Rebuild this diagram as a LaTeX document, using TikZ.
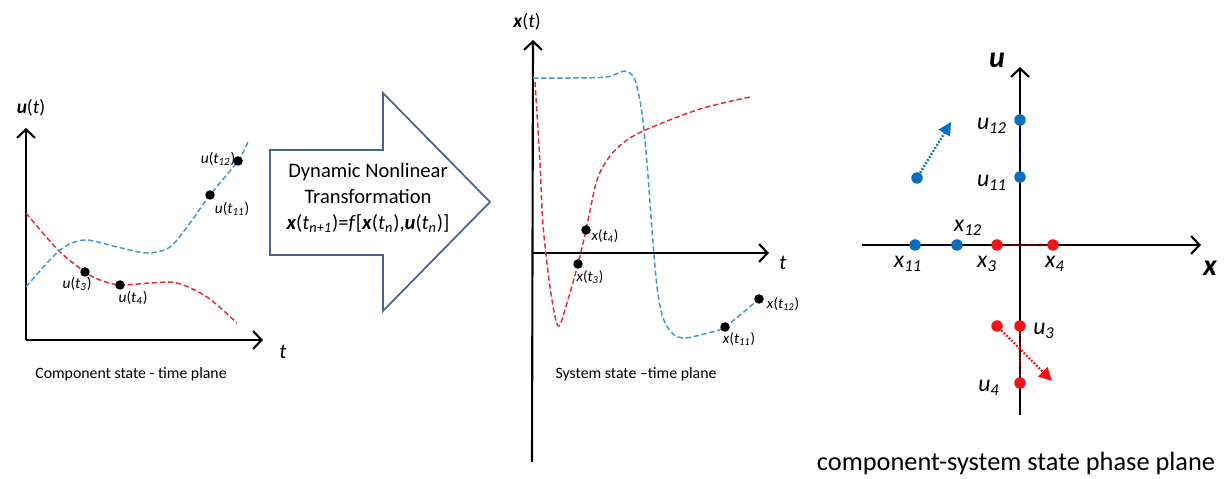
\documentclass[tikz,border=0pt]{standalone}
\usepackage{fontspec}
\setmainfont{Carlito}
\usetikzlibrary{arrows.meta}
\definecolor{curveblue}{RGB}{70,150,205}
\definecolor{curvered}{RGB}{225,45,60}
\definecolor{dotblue}{RGB}{10,110,190}
\definecolor{dotred}{RGB}{238,20,25}
\definecolor{arrowedge}{RGB}{75,100,140}
\tikzset{
  axis/.style={line width=1.2pt, -{Straight Barb[length=1.7mm,width=3.6mm]}},
  curve/.style={dash pattern=on 3pt off 1.6pt, line width=0.85pt},
  blackdot/.style={circle, fill=black, inner sep=0pt, minimum size=1.9mm},
  phasedot/.style={circle, inner sep=0pt, minimum size=2.3mm},
  link/.style={dash pattern=on 0.9pt off 0.7pt, line width=1.5pt},
  drift/.style={dash pattern=on 1pt off 1pt, line width=1.4pt, -{Triangle[length=2.6mm,width=2.6mm]}},
  smalllabel/.style={font=\fontsize{8.8}{10}\selectfont, inner sep=0pt},
  phaselabel/.style={font=\fontsize{13.5}{15}\selectfont, inner sep=0pt},
  caption/.style={font=\fontsize{9}{10}\selectfont, inner sep=0pt},
  transform/.style={draw=arrowedge, line width=1pt, fill=white, line join=miter}
}
\newcommand{\uval}[1]{\textit{u}(\textit{t}\textsubscript{\textit{#1}})}
\newcommand{\xval}[1]{\textit{x}(\textit{t}\textsubscript{\textit{#1}})}
\newcommand{\pv}[2]{\textit{#1}\textsubscript{\textit{#2}}}

\begin{document}
\begin{tikzpicture}[x=0.02cm, y=-0.02cm]
  \useasboundingbox (0,0) rectangle (1225,479);

  % component state - time plane
  \coordinate (lo) at (26,340);
  \draw[axis] (lo) -- (26,128);
  \draw[axis] (lo) -- (263,340);
  \node[font=\fontsize{11}{12}\selectfont] (ulab) at (31,108) {\textbf{\textit{u}}(\textit{t})};
  \node[font=\fontsize{12}{12}\selectfont\itshape] (tlab) at (283,352) {t};
  \draw[curve, curvered] plot[smooth] coordinates {(26,213) (58,250) (85,272) (100,280) (120,285) (150,283) (177,283) (207,297) (237,323)};
  \draw[curve, curveblue] plot[smooth] coordinates {(26,287) (60,250) (85,240) (117,247) (147,253) (170,247) (190,223) (210,195) (238,161) (248,142)};
  \node[blackdot] (u3) at (85,272) {};
  \node[blackdot] (u4) at (120,285) {};
  \node[blackdot] (u11) at (210,195) {};
  \node[blackdot] (u12) at (238,161) {};
  \node[smalllabel] (lu3) at (77,284) {\uval{3}};
  \node[smalllabel] (lu4) at (133,298) {\uval{4}};
  \node[smalllabel] (lu11) at (232,209) {\uval{11}};
  \node[smalllabel] (lu12) at (218,159) {\uval{12}};
  \node[caption] (cap1) at (131,374) {Component state - time plane};

  % transformation arrow
  \draw[transform] (270,150) -- (383,150) -- (383,93) -- (490,202) -- (383,311) -- (383,255) -- (270,255) -- cycle;
  \node[font=\fontsize{11.7}{14.6}\selectfont, align=center] (trans) at (368,198)
    {Dynamic Nonlinear\\Transformation\\\textbf{\textit{x}}(\textit{t}\textsubscript{\textit{n+1}})=\textit{f}[\textbf{\textit{x}}(\textit{t}\textsubscript{\textit{n}}),\textbf{\textit{u}}(\textit{t}\textsubscript{\textit{n}})]};

  % system state - time plane
  \draw[axis] (532,462) -- (533,40);
  \draw[axis] (532,253) -- (769,253);
  \node[font=\fontsize{11}{12}\selectfont] (xlab) at (527,22) {\textbf{\textit{x}}(\textit{t})};
  \node[font=\fontsize{12}{12}\selectfont\itshape] (tlab2) at (783,263) {t};
  \draw[curve, curveblue] plot[smooth] coordinates {(533,78) (570,78) (607,77) (625,71) (635,80) (642,113) (647,163) (652,230) (657,287) (663,318) (673,334) (685,338) (708,333) (725,327) (759,299)};
  \draw[curve, curvered] plot[smooth] coordinates {(535,82) (540,163) (543,225) (550,287) (558,326) (567,303) (578,264) (586,230) (597,180) (610,156) (627,140) (650,128) (700,109) (750,97)};
  \node[blackdot] (x3) at (578,264) {};
  \node[blackdot] (x4) at (586,230) {};
  \node[blackdot] (x11) at (725,327) {};
  \node[blackdot] (x12) at (759,299) {};
  \node[smalllabel, font=\fontsize{8.5}{10}\selectfont] (lx3) at (590,277) {\xval{3}};
  \node[smalllabel, font=\fontsize{8.5}{10}\selectfont] (lx4) at (605,236) {\xval{4}};
  \node[smalllabel, font=\fontsize{8.5}{10}\selectfont] (lx11) at (739,339) {\xval{11}};
  \node[smalllabel, font=\fontsize{8.5}{10}\selectfont] (lx12) at (783,304) {\xval{12}};
  \node[caption] (cap2) at (636,374) {System state --time plane};

  % component-system state phase plane
  \draw[axis] (1020,415) -- (1020,67);
  \draw[axis] (862,245) -- (1201,245);
  \node[font=\fontsize{17}{18}\selectfont\bfseries\itshape] (ulab3) at (997,60) {u};
  \node[font=\fontsize{17}{18}\selectfont\bfseries\itshape] (xlab3) at (1210,268) {x};
  \node[phasedot, fill=dotblue] (pu12) at (1020,120) {};
  \node[phasedot, fill=dotblue] (pu11) at (1020,177) {};
  \node[phasedot, fill=dotblue] (pfree1) at (917,178) {};
  \node[phasedot, fill=dotblue] (px11) at (915,245) {};
  \node[phasedot, fill=dotblue] (px12) at (957,245) {};
  \node[phasedot, fill=dotred] (px3) at (997,245) {};
  \node[phasedot, fill=dotred] (px4) at (1053,245) {};
  \node[phasedot, fill=dotred] (pu3) at (1020,326) {};
  \node[phasedot, fill=dotred] (pu4) at (1020,383) {};
  \node[phasedot, fill=dotred] (pfree2) at (997,326) {};
  \coordinate (drift1) at (951,122);
  \coordinate (drift2) at (1052,381);
  \draw[link, blue!45!black] (px11) -- (px12);
  \draw[link, blue!45!black] (pu11) -- (pu12);
  \draw[link, red!55!black] (px3) -- (px4);
  \draw[link, red!55!black] (pu3) -- (pu4);
  \draw[drift, dotblue] (pfree1) -- (drift1);
  \draw[drift, dotred] (pfree2) -- (drift2);
  \node[phaselabel] (lpu12) at (992,126) {\pv{u}{12}};
  \node[phaselabel] (lpu11) at (992,183) {\pv{u}{11}};
  \node[phaselabel] (lpx12) at (968,228) {\pv{x}{12}};
  \node[phaselabel] (lpx11) at (908,264) {\pv{x}{11}};
  \node[phaselabel] (lpx3) at (987,264) {\pv{x}{3}};
  \node[phaselabel] (lpx4) at (1055,264) {\pv{x}{4}};
  \node[phaselabel] (lpu3) at (1044,331) {\pv{u}{3}};
  \node[phaselabel] (lpu4) at (989,388) {\pv{u}{4}};
  \node[font=\fontsize{15}{17}\selectfont, inner sep=0pt] (cap3) at (1016,463) {component-system state phase plane};
\end{tikzpicture}
\end{document}
